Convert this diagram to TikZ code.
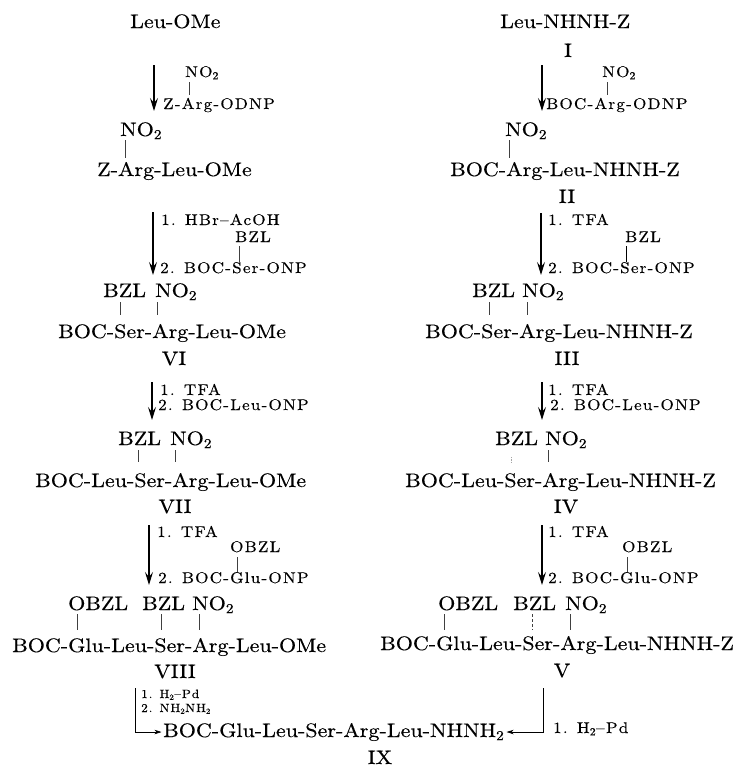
\documentclass[tikz,border=0pt]{standalone}
\usepackage{fontspec}
\usetikzlibrary{arrows.meta}
\newfontfamily\mainf[FakeStretch=1.13,FakeBold=0.3]{lmroman10-regular.otf}
\newfontfamily\rgf[FakeStretch=1.1,LetterSpace=8,FakeBold=0.25]{lmroman10-regular.otf}
\tikzset{
  prod/.style={inner sep=0pt, anchor=base west, font={\mainf\fontsize{19.5}{20}\selectfont}},
  numeral/.style={inner sep=0pt, anchor=base, font={\mainf\fontsize{19.5}{20}\selectfont}},
  rgt/.style={inner sep=0pt, anchor=base west, font={\rgf\fontsize{15.5}{16}\selectfont}},
  rgtsmall/.style={inner sep=0pt, anchor=base west, font={\rgf\fontsize{12}{12}\selectfont}},
  arr/.style={line width=1.4pt, -{Stealth[length=13pt,width=8pt,inset=5pt]}},
  farr/.style={line width=0.9pt, -{Stealth[length=7pt,width=4.5pt,inset=2pt]}},
  bond/.style={line width=0.55pt, black!75},
  faintbond/.style={line width=0.5pt, black!35, densely dotted},
}
\begin{document}
\begin{tikzpicture}[x=1pt,y=-1pt]
\fill[white] (0,0) rectangle (738,771);
\useasboundingbox (0,0) rectangle (738,771);

% ================= LEFT COLUMN =================
\node[prod] (l0) at (130,28) {Leu-OMe};
\coordinate (la1s) at (154,65); \coordinate (la1e) at (154,111);
\draw[arr] (la1s) -- (la1e);
\node[rgt] (l1sub) at (185,77) {NO\textsubscript{2}};
\node[rgt] (l1r) at (163,109) {Z-Arg-ODNP};
\draw[bond, shorten <=5pt, shorten >=14pt] (l1sub.base -| 189,0) -- (l1r.base -| 189,0);
\node[prod] (l1no) at (120,136) {NO\textsubscript{2}};
\node[prod] (l1p) at (97,176) {Z-Arg-Leu-OMe};
\draw[bond, shorten <=4pt, shorten >=18pt] (l1no.base -| 125,0) -- (l1p.base -| 125,0);

\coordinate (la2s) at (153,212); \coordinate (la2e) at (153,275);
\draw[arr] (la2s) -- (la2e);
\node[rgt] (l2r1) at (161,225) {1. HBr–AcOH};
\node[rgt] (l2sub) at (235,242) {BZL};
\node[rgt] (l2r2) at (160,273) {2. BOC-Ser-ONP};
\draw[bond, shorten <=4pt, shorten >=11pt] (l2sub.base -| 239,0) -- (l2r2.base -| 239,0);
\node[prod] (l2bzl) at (103,297) {BZL};
\node[prod] (l2no) at (155,297) {NO\textsubscript{2}};
\node[prod] (l2p) at (58,338) {BOC-Ser-Arg-Leu-OMe};
\draw[bond, shorten <=5pt, shorten >=23pt] (l2bzl.base -| 120,0) -- (l2p.base -| 120,0);
\draw[bond, shorten <=5pt, shorten >=23pt] (l2no.base -| 157,0) -- (l2p.base -| 157,0);
\node[numeral] (nVI) at (174,365) {VI};

\coordinate (la3s) at (152,382); \coordinate (la3e) at (152,420);
\draw[arr] (la3s) -- (la3e);
\node[rgt] (l3r1) at (160,395) {1. TFA};
\node[rgt] (l3r2) at (158,410) {2. BOC-Leu-ONP};
\node[prod] (l3bzl) at (118,445) {BZL};
\node[prod] (l3no) at (170,445) {NO\textsubscript{2}};
\node[prod] (l3p) at (35,487) {BOC-Leu-Ser-Arg-Leu-OMe};
\draw[bond, shorten <=5pt, shorten >=25pt] (l3bzl.base -| 138,0) -- (l3p.base -| 138,0);
\draw[bond, shorten <=5pt, shorten >=25pt] (l3no.base -| 175,0) -- (l3p.base -| 175,0);
\node[numeral] (nVII) at (175,513) {VII};

\coordinate (la4s) at (149,525); \coordinate (la4e) at (149,585);
\draw[arr] (la4s) -- (la4e);
\node[rgt] (l4r1) at (157,537) {1. TFA};
\node[rgt] (l4sub) at (230,552) {OBZL};
\node[rgt] (l4r2) at (158,583) {2. BOC-Glu-ONP};
\draw[bond, shorten <=5pt, shorten >=11pt] (l4sub.base -| 237,0) -- (l4r2.base -| 237,0);
\node[prod] (l4obzl) at (68,610) {OBZL};
\node[prod] (l4bzl) at (142,610) {BZL};
\node[prod] (l4no) at (192,610) {NO\textsubscript{2}};
\node[prod] (l4p) at (12,652) {BOC-Glu-Leu-Ser-Arg-Leu-OMe};
\draw[bond, shorten <=4pt, shorten >=22pt] (l4obzl.base -| 77,0) -- (l4p.base -| 77,0);
\draw[bond, shorten <=4pt, shorten >=22pt] (l4bzl.base -| 161,0) -- (l4p.base -| 161,0);
\draw[bond, shorten <=4pt, shorten >=22pt] (l4no.base -| 199,0) -- (l4p.base -| 199,0);
\node[numeral] (nVIII) at (175,678) {VIII};

% ================= RIGHT COLUMN =================
\node[prod] (r0) at (500,28) {Leu-NHNH-Z};
\node[numeral] (nI) at (568,57) {I};
\coordinate (ra1s) at (542,65); \coordinate (ra1e) at (542,111);
\draw[arr] (ra1s) -- (ra1e);
\node[rgt] (r1sub) at (602,77) {NO\textsubscript{2}};
\node[rgt] (r1r) at (546,109) {BOC-Arg-ODNP};
\draw[bond, shorten <=5pt, shorten >=14pt] (r1sub.base -| 607,0) -- (r1r.base -| 607,0);
\node[prod] (r1no) at (505,136) {NO\textsubscript{2}};
\node[prod] (r1p) at (450,176) {BOC-Arg-Leu-NHNH-Z};
\draw[bond, shorten <=4pt, shorten >=18pt] (r1no.base -| 509,0) -- (r1p.base -| 509,0);
\node[numeral] (nII) at (567,203) {II};

\coordinate (ra2s) at (541,213); \coordinate (ra2e) at (541,275);
\draw[arr] (ra2s) -- (ra2e);
\node[rgt] (r2r1) at (548,225) {1. TFA};
\node[rgt] (r2sub) at (625,242) {BZL};
\node[rgt] (r2r2) at (548,273) {2. BOC-Ser-ONP};
\draw[bond, line width=1pt, black, shorten <=4pt, shorten >=11pt] (r2sub.base -| 626,0) -- (r2r2.base -| 626,0);
\node[prod] (r2bzl) at (472,297) {BZL};
\node[prod] (r2no) at (522,297) {NO\textsubscript{2}};
\node[prod] (r2p) at (425,338) {BOC-Ser-Arg-Leu-NHNH-Z};
\draw[bond, shorten <=5pt, shorten >=23pt] (r2bzl.base -| 489,0) -- (r2p.base -| 489,0);
\draw[bond, shorten <=5pt, shorten >=23pt] (r2no.base -| 527,0) -- (r2p.base -| 527,0);
\node[numeral] (nIII) at (567,365) {III};

\coordinate (ra3s) at (542,382); \coordinate (ra3e) at (542,420);
\draw[arr] (ra3s) -- (ra3e);
\node[rgt] (r3r1) at (548,395) {1. TFA};
\node[rgt] (r3r2) at (550,410) {2. BOC-Leu-ONP};
\node[prod] (r3bzl) at (495,445) {BZL};
\node[prod] (r3no) at (545,445) {NO\textsubscript{2}};
\node[prod] (r3p) at (405,487) {BOC-Leu-Ser-Arg-Leu-NHNH-Z};
\draw[faintbond, shorten <=12pt, shorten >=25pt] (r3bzl.base -| 511,0) -- (r3p.base -| 511,0);
\draw[bond, shorten <=5pt, shorten >=25pt] (r3no.base -| 548,0) -- (r3p.base -| 548,0);
\node[numeral] (nIV) at (566,513) {IV};

\coordinate (ra4s) at (542,525); \coordinate (ra4e) at (542,585);
\draw[arr] (ra4s) -- (ra4e);
\node[rgt] (r4r1) at (548,537) {1. TFA};
\node[rgt] (r4sub) at (622,552) {OBZL};
\node[rgt] (r4r2) at (548,583) {2. BOC-Glu-ONP};
\draw[bond, shorten <=5pt, shorten >=11pt] (r4sub.base -| 627,0) -- (r4r2.base -| 627,0);
\node[prod] (r4obzl) at (438,610) {OBZL};
\node[prod] (r4bzl) at (513,610) {BZL};
\node[prod] (r4no) at (565,610) {NO\textsubscript{2}};
\node[prod] (r4p) at (380,650) {BOC-Glu-Leu-Ser-Arg-Leu-NHNH-Z};
\draw[bond, shorten <=4pt, shorten >=20pt] (r4obzl.base -| 444,0) -- (r4p.base -| 444,0);
\draw[bond, densely dashed, shorten <=4pt, shorten >=20pt] (r4bzl.base -| 532,0) -- (r4p.base -| 532,0);
\draw[bond, shorten <=4pt, shorten >=20pt] (r4no.base -| 570,0) -- (r4p.base -| 570,0);
\node[numeral] (nV) at (562,677) {V};

% ================= FINAL =================
\node[prod] (fin) at (163,737) {BOC-Glu-Leu-Ser-Arg-Leu-NHNH\textsubscript{2}};
\node[numeral] (nIX) at (380,764) {IX};
\coordinate (fl) at (135,688);
\coordinate (fr) at (543,688);
\draw[farr, line width=0.6pt, shorten >=1.5pt] (fl) |- (fin.west);
\draw[farr, line width=0.8pt, shorten >=2pt] (fr) |- (fin.east);
\node[rgtsmall] (fl1) at (141,698) {1. H\textsubscript{2}–Pd};
\node[rgtsmall] (fl2) at (141,712) {2. NH\textsubscript{2}NH\textsubscript{2}};
\node[rgt] (fr1) at (553,733) {1. H\textsubscript{2}–Pd};
\end{tikzpicture}
\end{document}
